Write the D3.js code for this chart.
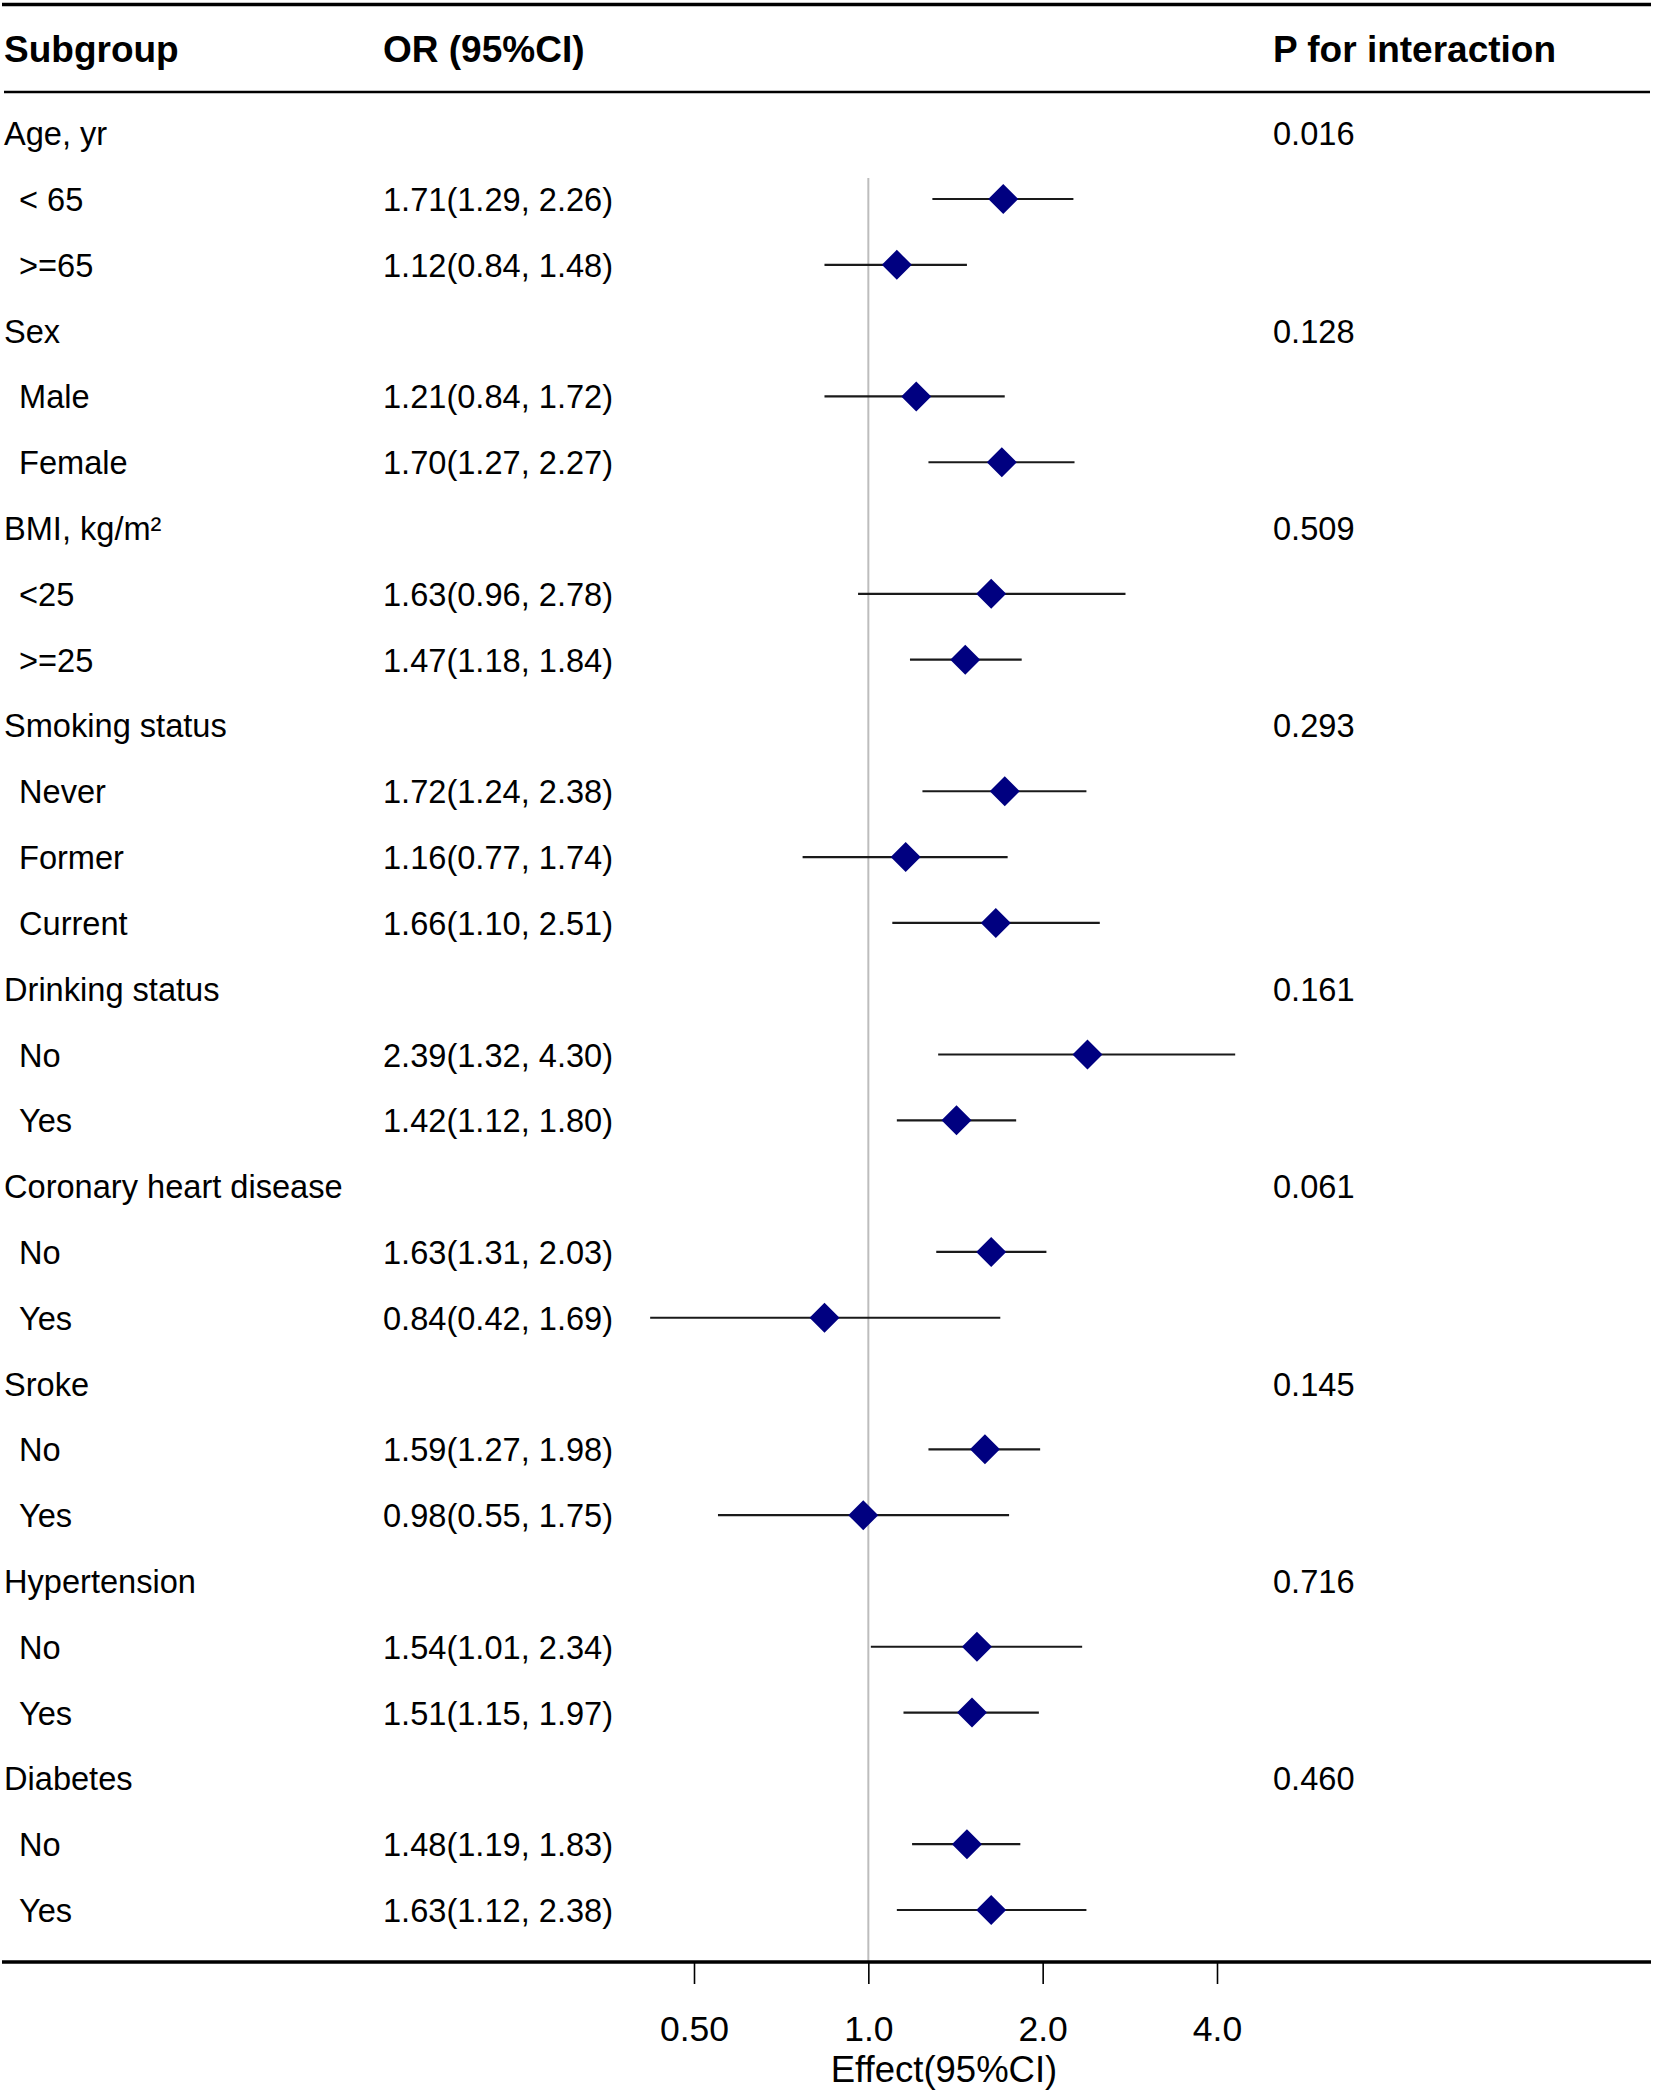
<!DOCTYPE html>
<html>
<head>
<meta charset="utf-8">
<script src="https://cdn.jsdelivr.net/npm/d3@7"></script>
<style>
  body { margin: 0; background: #fff; }
  text { font-family: 'Liberation Sans', Arial, Helvetica, sans-serif; fill: #000; }
</style>
</head>
<body>
<div id="plot-div"></div>
<script>
// ---- data ----
const groups = ['Age, yr', 'Sex', 'BMI, kg/m²', 'Smoking status', 'Drinking status',
  'Coronary heart disease', 'Sroke', 'Hypertension', 'Diabetes']
const pInteraction = ['0.016', '0.128', '0.509', '0.293', '0.161', '0.061', '0.145', '0.716', '0.460']
const subgroups = [
  ['< 65', '>=65'],
  ['Male', 'Female'],
  ['<25', '>=25'],
  ['Never', 'Former', 'Current'],
  ['No', 'Yes'],
  ['No', 'Yes'],
  ['No', 'Yes'],
  ['No', 'Yes'],
  ['No', 'Yes']
]
const orEst = [1.71, 1.12, 1.21, 1.70, 1.63, 1.47, 1.72, 1.16, 1.66, 2.39, 1.42, 1.63, 0.84, 1.59, 0.98, 1.54, 1.51, 1.48, 1.63]
const orLow = [1.29, 0.84, 0.84, 1.27, 0.96, 1.18, 1.24, 0.77, 1.10, 1.32, 1.12, 1.31, 0.42, 1.27, 0.55, 1.01, 1.15, 1.19, 1.12]
const orHigh = [2.26, 1.48, 1.72, 2.27, 2.78, 1.84, 2.38, 1.74, 2.51, 4.30, 1.80, 2.03, 1.69, 1.98, 1.75, 2.34, 1.97, 1.83, 2.38]
const tickValues = [0.5, 1, 2, 4]
const tickLabels = ['0.50', '1.0', '2.0', '4.0']

// ---- build row table ----
const rows = []
let k = 0
groups.forEach((g, gi) => {
  rows.push({ label: g, group: true, p: pInteraction[gi] })
  subgroups[gi].forEach(s => {
    rows.push({ label: s, group: false, est: orEst[k], lo: orLow[k], hi: orHigh[k] })
    k++
  })
})
rows.forEach((r, i) => r.idx = i)

const dms = { width: 1653, height: 2095 }

const svg = d3.select('#plot-div').append('svg')
  .attr('width', dms.width)
  .attr('height', dms.height)

svg.append('rect').attr('width', dms.width).attr('height', dms.height).attr('fill', '#fff')

const yScale = d3.scalePoint()
  .domain(rows.map(d => d.idx))
  .range([133.2, 1910])

const xScale = d3.scaleLog()
  .base(2)
  .domain([0.5, 4])
  .range([694, 1217])

const fmt = d3.format('.2f')
const col = { label: 4, sub: 19, or: 383, p: 1273 }
const baseOff = 12

// header
const header = svg.append('g').attr('id', 'header')
header.selectAll('text')
  .data([['Subgroup', 4], ['OR (95%CI)', col.or], ['P for interaction', col.p]])
  .join('text')
  .attr('x', d => d[1])
  .attr('y', 62)
  .style('font-size', '37px')
  .style('font-weight', 'bold')
  .text(d => d[0])

// horizontal rules
svg.append('line').attr('x1', 2).attr('x2', 1651).attr('y1', 4.5).attr('y2', 4.5)
  .attr('stroke', '#000').attr('stroke-width', 3.5)
svg.append('line').attr('x1', 4).attr('x2', 1650).attr('y1', 92).attr('y2', 92)
  .attr('stroke', '#000').attr('stroke-width', 2.5)

// reference line
svg.append('line')
  .attr('x1', xScale(1)).attr('x2', xScale(1))
  .attr('y1', 178).attr('y2', 1962)
  .attr('stroke', '#bdbdbd').attr('stroke-width', 2)

// row texts
const rowText = svg.append('g').attr('id', 'row-text').style('font-size', '32.6px')
rowText.selectAll('text.label')
  .data(rows)
  .join('text')
  .attr('class', 'label')
  .attr('x', d => d.group ? col.label : col.sub)
  .attr('y', d => yScale(d.idx) + baseOff)
  .text(d => d.label)

rowText.selectAll('text.or')
  .data(rows.filter(d => !d.group))
  .join('text')
  .attr('class', 'or')
  .attr('x', col.or)
  .attr('y', d => yScale(d.idx) + baseOff)
  .text(d => `${fmt(d.est)}(${fmt(d.lo)}, ${fmt(d.hi)})`)

rowText.selectAll('text.p')
  .data(rows.filter(d => d.group))
  .join('text')
  .attr('class', 'p')
  .attr('x', col.p)
  .attr('y', d => yScale(d.idx) + baseOff)
  .text(d => d.p)

// CI lines + diamonds
const marks = svg.append('g').attr('id', 'marks')
const est = rows.filter(d => !d.group)
marks.selectAll('line')
  .data(est)
  .join('line')
  .attr('x1', d => xScale(d.lo))
  .attr('x2', d => xScale(d.hi))
  .attr('y1', d => yScale(d.idx))
  .attr('y2', d => yScale(d.idx))
  .attr('stroke', '#1a1a1a')
  .attr('stroke-width', 2.2)

const ds = 15
marks.selectAll('path')
  .data(est)
  .join('path')
  .attr('transform', d => `translate(${xScale(d.est)},${yScale(d.idx)})`)
  .attr('d', `M0,${-ds}L${ds},0L0,${ds}L${-ds},0Z`)
  .attr('fill', '#000080')

// bottom rule + axis
svg.append('line').attr('x1', 2).attr('x2', 1651).attr('y1', 1962).attr('y2', 1962)
  .attr('stroke', '#000').attr('stroke-width', 3.5)

const axisGen = d3.axisBottom(xScale)
  .tickValues(tickValues)
  .tickFormat((d, i) => tickLabels[i])
  .tickSize(21)
  .tickPadding(32)

const axis = svg.append('g')
  .attr('transform', 'translate(0,1963)')
  .call(axisGen)
axis.select('.domain').remove()
axis.selectAll('.tick line').attr('stroke', '#000').attr('stroke-width', 1.6)
axis.selectAll('.tick text')
  .style('font-size', '35.5px')
  .style('font-family', "'Liberation Sans', Arial, sans-serif")
  .attr('fill', '#000')

svg.append('text')
  .attr('x', 944)
  .attr('y', 2082)
  .attr('text-anchor', 'middle')
  .style('font-size', '36.5px')
  .text('Effect(95%CI)')
</script>
</body>
</html>
